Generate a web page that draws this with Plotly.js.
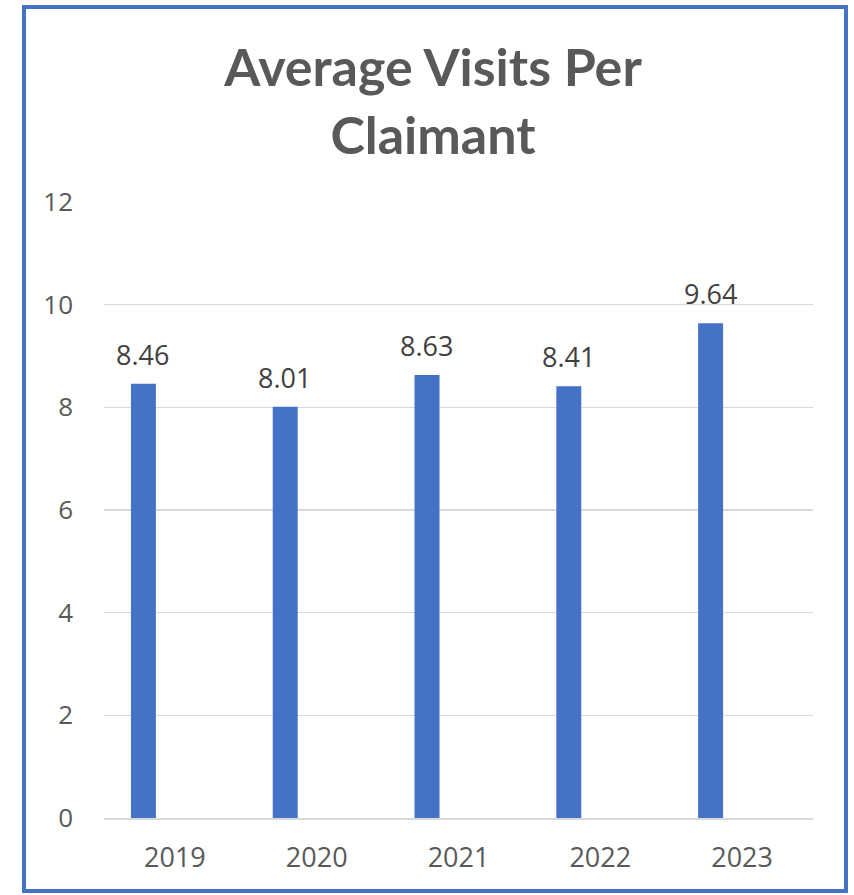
<!DOCTYPE html>
<html><head><meta charset="utf-8">
<script src="https://cdn.plot.ly/plotly-3.0.1.min.js"></script>
<style>
html,body{margin:0;padding:0;background:#fff;}
#wrap{position:relative;width:854px;height:895px;}
#chart{width:854px;height:895px;}
#frame{position:absolute;left:22px;top:5px;width:818px;height:880px;border:4px solid #4472C4;pointer-events:none;}
</style></head>
<body>
<div id="wrap"><div id="chart"></div><div id="frame"></div></div>
<script>
const years = ['2019','2020','2021','2022','2023'];
const visits = [8.46, 8.01, 8.63, 8.41, 9.64];
const labels = ['8.46','8.01','8.63','8.41','9.64'];
const yTicks = [0,2,4,6,8,10,12];

const trace = {
  type:'bar', x:years, y:visits,
  width:0.176, offset:-0.31,
  marker:{color:'#4472C4'},
  hoverinfo:'none'
};
const annotations = years.map((yr,i)=>({
  x:i, y:visits[i], xref:'x', yref:'y', text:labels[i], showarrow:false,
  xshift:-32, yanchor:'bottom', yshift:9,
  font:{family:'Open Sans, sans-serif', size:27, color:'#404040'}
}));
const layout = {
  width:854, height:895,
  margin:{l:104, r:41, t:202, b:77},
  paper_bgcolor:'#fff', plot_bgcolor:'#fff',
  title:{text:'Average Visits Per<br>Claimant', x:433/854, xref:'container', xanchor:'center',
    y:1-86/895, yref:'container', yanchor:'middle',
    font:{family:'Lato, sans-serif', size:52, color:'#595959', weight:'bold'}},
  showlegend:false,
  xaxis:{type:'category', range:[-0.5,4.5], autorange:false,
    tickfont:{family:'Open Sans, sans-serif', size:27, color:'#595959'},
    showgrid:false, showline:true, linecolor:'#d9d9d9', linewidth:1.5, ticks:'', ticklabelstandoff:15},
  yaxis:{range:[0,12], autorange:false, tickvals:yTicks,
    tickfont:{family:'Open Sans, sans-serif', size:26, color:'#595959'},
    gridcolor:'#d9d9d9', gridwidth:1.2, zeroline:false, showline:false, ticks:'', ticklabelstandoff:30},
  annotations:annotations
};
Plotly.newPlot('chart',[trace],layout,{displayModeBar:false,staticPlot:true});
</script>
</body></html>
